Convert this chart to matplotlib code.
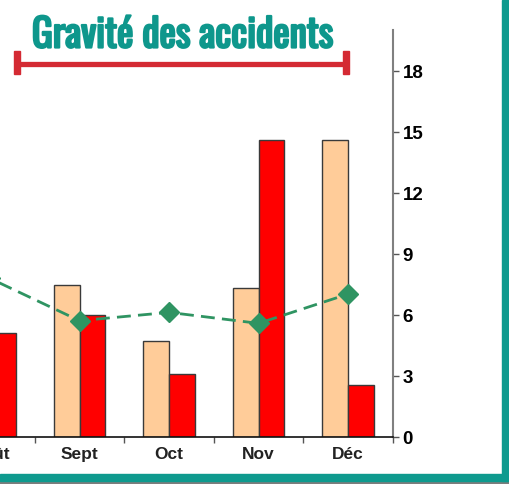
import matplotlib
matplotlib.use("Agg")
import matplotlib.pyplot as plt
from matplotlib.patches import Rectangle
from matplotlib.lines import Line2D
import matplotlib.patheffects as pe
import numpy as np

# ---- data ----
months = ["Août", "Sept", "Oct", "Nov", "Déc"]
serie_legere = [7.0, 7.5, 4.7, 7.35, 14.6]   # peach bars (Août not visible)
serie_grave = [5.1, 6.0, 3.1, 14.6, 2.55]    # red bars
moyenne = [7.8, 5.72, 6.13, 5.59, 7.03]       # dashed green line
yticks = [0, 3, 6, 9, 12, 15, 18]
title = "Gravité des accidents"

W, H = 509, 484
fig = plt.figure(figsize=(W / 100, H / 100), dpi=100)
fig.patch.set_facecolor("white")

def fx(px):
    return px / W

def fy(py):
    return 1 - py / H

# axes: right spine at x=393, y=0 at 437, y=20 at 30.4; xlim(-0.5,4.5)
right_px = 392.75
cat_px = 89.5
left_px = right_px - 5 * cat_px
ax = fig.add_axes([fx(left_px), fy(437), (right_px - left_px) / W, (437 - 30.4) / H])
ax.set_xlim(-0.5, 4.5)
ax.set_ylim(0, 20)

x = np.arange(len(months))
bw = 0.285
ax.bar(x - bw / 2, serie_legere, width=bw, color="#FFCC99", edgecolor="#3a3a3a", linewidth=1.0, zorder=2)
ax.bar(x + bw / 2, serie_grave, width=bw, color="#FF0000", edgecolor="#3a3a3a", linewidth=1.0, zorder=2)
ax.plot(x, moyenne, color="#2F9462", linestyle=(0, (5, 2.6)), linewidth=2.0,
        marker="D", markersize=10, markerfacecolor="#2F9462", markeredgecolor="#2F9462", zorder=3,
        clip_on=False)

for s in ["top", "left"]:
    ax.spines[s].set_visible(False)
ax.spines["right"].set_color("#808080")
ax.spines["right"].set_linewidth(1.5)
ax.spines["bottom"].set_color("#111111")
ax.spines["bottom"].set_linewidth(1.2)

ax.yaxis.tick_right()
ax.set_yticks(yticks)
ax.set_yticklabels([str(v) for v in yticks], fontsize=13.5, fontweight="bold",
                   family=["Liberation Sans", "DejaVu Sans"])
ax.tick_params(axis="y", direction="out", length=4.5, width=1.0, color="#555555", pad=2.5)

ax.set_xticks(x)
ax.set_xticklabels(months, fontsize=12.5, fontweight="bold", color="#222222",
                   family=["Liberation Sans", "DejaVu Sans"])
ax.tick_params(axis="x", which="major", length=0, pad=7)
ax.set_xticks(np.arange(-0.5, 4.6, 1.0), minor=True)
ax.tick_params(axis="x", which="minor", direction="out", length=4, width=1.0, color="#555555")

# title
teal_title = "#0E978C"
fig.text(fx(182.5), fy(35), title, ha="center", va="center", fontsize=28,
         color=teal_title, family=["Oswald", "DejaVu Sans"],
         path_effects=[pe.withStroke(linewidth=1.6, foreground=teal_title)])

# red bracket
red = "#D42A33"
fig.add_artist(Line2D([fx(15), fx(347)], [fy(63.5), fy(63.5)], color=red, linewidth=3.8,
                      transform=fig.transFigure, solid_capstyle="butt"))
fig.add_artist(Rectangle((fx(14), fy(74)), fx(6), (74 - 51) / H, color=red,
                         transform=fig.transFigure))
fig.add_artist(Rectangle((fx(342.5), fy(74)), fx(6), (74 - 51) / H, color=red,
                         transform=fig.transFigure))

# teal frame (right and bottom) with gray shadow
teal = "#0E9A8E"
gray = "#7d7d7d"
fig.add_artist(Rectangle((fx(507), 0), fx(2), 1, color=gray, transform=fig.transFigure))
fig.add_artist(Rectangle((0, 0), 1, (484 - 481) / H, color=gray, transform=fig.transFigure))
fig.add_artist(Rectangle((fx(501.5), fy(481)), fx(6), 481 / H, color=teal, transform=fig.transFigure))
fig.add_artist(Rectangle((0, fy(481)), fx(507.5), (481 - 473.5) / H, color=teal, transform=fig.transFigure))

fig.savefig("out.png", dpi=100)
